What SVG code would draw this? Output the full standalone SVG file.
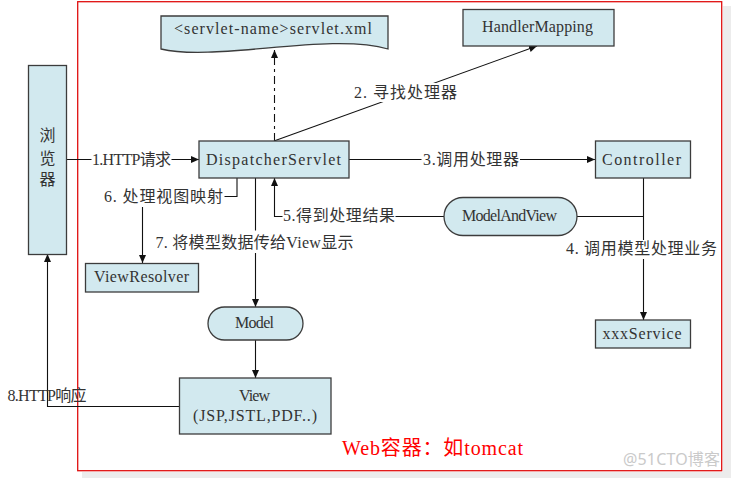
<svg xmlns="http://www.w3.org/2000/svg" width="731" height="478" viewBox="0 0 731 478">
  <style>
    .node { fill: #d2e9ef; stroke: #3c3c3c; stroke-width: 1.3; }
    .t { font-family: "Liberation Serif", "Noto Sans CJK SC", serif; font-size: 16px; fill: #333333; }
    .c { fill: none; stroke: #111111; stroke-width: 1.1; }
    .bg { fill: #ffffff; }
  </style>
  <defs>
    <marker id="arr" markerUnits="userSpaceOnUse" markerWidth="9" markerHeight="8" refX="8" refY="3.5" orient="auto">
      <path d="M0,0 L8,3.5 L0,7 z" fill="#111111"/>
    </marker>
  </defs>

  <rect x="0" y="0" width="731" height="478" fill="#ffffff"/>
  <!-- container shadow and border -->
  <rect x="723" y="6" width="8" height="472" fill="#ececec"/>
  <rect x="82" y="472" width="649" height="6" fill="#ececec"/>
  <rect x="77.7" y="1.7" width="644" height="469" fill="#ffffff" stroke="#e01010" stroke-width="1.3"/>

  <g id="connectors">
    <path class="c" d="M66.5,159.5 H199" marker-end="url(#arr)"/>
    <path class="c" d="M274,141 L537,46" marker-end="url(#arr)"/>
    <path class="c" d="M274.5,141 V50" stroke-dasharray="8 4 3 4" marker-end="url(#arr)"/>
    <path class="c" d="M349,159.5 H595" marker-end="url(#arr)"/>
    <path class="c" d="M643.5,178 V320" marker-end="url(#arr)"/>
    <path class="c" d="M643.5,216.5 H577"/>
    <path class="c" d="M444,216.5 H274.5 V178" marker-end="url(#arr)"/>
    <path class="c" d="M237,178 V196.5 H142.5 V263" marker-end="url(#arr)"/>
    <path class="c" d="M255.5,178 V307" marker-end="url(#arr)"/>
    <path class="c" d="M255.5,340 V378" marker-end="url(#arr)"/>
    <path class="c" d="M179,406.5 H47.5 V254" marker-end="url(#arr)"/>

    <g id="connector-labels">
      <rect class="bg" x="91.5" y="150" width="80" height="19"/>
      <text class="t" x="92" y="164.5" textLength="79">1.HTTP请求</text>
      <rect class="bg" x="353" y="83" width="106" height="19"/>
      <text class="t" x="354" y="98" textLength="103">2. 寻找处理器</text>
      <rect class="bg" x="421.5" y="150" width="98.5" height="19"/>
      <text class="t" x="423" y="164.5" textLength="96">3.调用处理器</text>
      <rect class="bg" x="565" y="240" width="153" height="19"/>
      <text class="t" x="566" y="254" textLength="151">4. 调用模型处理业务</text>
      <rect class="bg" x="282.5" y="207" width="113" height="18"/>
      <text class="t" x="283" y="221" textLength="112">5.得到处理结果</text>
      <rect class="bg" x="103" y="187" width="121.5" height="20"/>
      <text class="t" x="104" y="201.7" textLength="119">6. 处理视图映射</text>
      <rect class="bg" x="154" y="230.5" width="201" height="22.5"/>
      <text class="t" x="155.5" y="247.5" textLength="198">7. 将模型数据传给View显示</text>
      <text class="t" x="7.5" y="400.7" textLength="79">8.HTTP响应</text>
    </g>
  </g>

  <g id="browser">
    <rect class="node" x="28.5" y="65.5" width="38" height="189"/>
    <text class="t" x="47.5" y="135.5" font-size="18" text-anchor="middle" dominant-baseline="central">浏</text>
    <text class="t" x="47.5" y="158" font-size="18" text-anchor="middle" dominant-baseline="central">览</text>
    <text class="t" x="47.5" y="179.5" font-size="18" text-anchor="middle" dominant-baseline="central">器</text>
  </g>

  <g id="servlet-xml">
    <path class="node" d="M161,16 H388 V49 C330,32 215,62 161,49 Z"/>
    <text class="t" x="174" y="34" textLength="198">&lt;servlet-name&gt;servlet.xml</text>
  </g>

  <g id="handler-mapping">
    <rect class="node" x="463" y="9.5" width="151" height="36.5"/>
    <text class="t" x="482" y="32" textLength="111">HandlerMapping</text>
  </g>

  <g id="dispatcher-servlet">
    <rect class="node" x="199" y="141" width="150" height="37"/>
    <text class="t" x="206" y="164.5" textLength="135">DispatcherServlet</text>
  </g>

  <g id="controller">
    <rect class="node" x="595.5" y="141" width="95" height="37"/>
    <text class="t" x="602" y="164.5" textLength="79">Controller</text>
  </g>

  <g id="model-and-view">
    <rect class="node" x="444" y="197.5" width="133" height="38" rx="19" ry="19"/>
    <text class="t" x="462" y="221" textLength="95">ModelAndView</text>
  </g>

  <g id="view-resolver">
    <rect class="node" x="85.5" y="263.5" width="113" height="28.5"/>
    <text class="t" x="94" y="282.3" textLength="95">ViewResolver</text>
  </g>

  <g id="xxx-service">
    <rect class="node" x="595.5" y="320" width="95" height="28"/>
    <text class="t" x="602.5" y="339.3" textLength="79">xxxService</text>
  </g>

  <g id="model">
    <rect class="node" x="208" y="307" width="95" height="33" rx="16.5" ry="16.5"/>
    <text class="t" x="235" y="327.7" textLength="39">Model</text>
  </g>

  <g id="view">
    <rect class="node" x="179.5" y="378" width="151.5" height="56"/>
    <text class="t" x="239" y="400.7" textLength="31">View</text>
    <text class="t" x="193" y="420.7" textLength="124">(JSP,JSTL,PDF..)</text>
  </g>

  <text x="342" y="455" textLength="181" font-family="Liberation Serif, Noto Sans CJK SC, serif" font-size="20" fill="#ff0000">Web容器：如tomcat</text>
  <text x="623" y="465" textLength="97" font-family="Noto Sans, Noto Sans CJK SC, sans-serif" font-size="16" fill="#cacaca">@51CTO博客</text>
</svg>
